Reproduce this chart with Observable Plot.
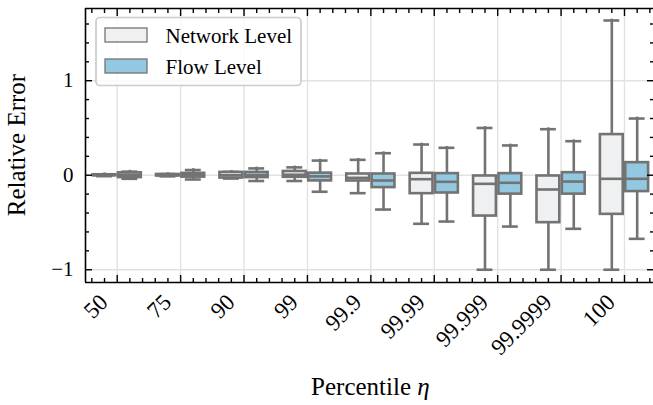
<!DOCTYPE html>
<html><head><meta charset="utf-8">
<script src="https://cdn.jsdelivr.net/npm/d3@7"></script>
<script src="https://cdn.jsdelivr.net/npm/@observablehq/plot@0.6"></script>
<style>
html,body{margin:0;padding:0;background:#fff;}
#chart{width:653px;height:405px;overflow:hidden;position:relative;}
#chart svg{overflow:hidden;display:block;}
</style></head><body><div id="chart"></div>
<script>
// ---- data ----
const categories = ["50","75","90","99","99.9","99.99","99.999","99.9999","100"];
const seriesNames = ["Network Level","Flow Level"];
const seriesColors = ["#eff0f2","#93c9e0"];

const netLow    = [-0.010,-0.012,-0.035,-0.061,-0.190,-0.514,-1.000,-1.000,-1.000];
const netQ1     = [-0.005,-0.008,-0.030,-0.022,-0.061,-0.195,-0.432,-0.502,-0.414];
const netMedian = [ 0.000, 0.000, 0.000, 0.005,-0.028,-0.042,-0.091,-0.151,-0.038];
const netQ3     = [ 0.005, 0.008, 0.030, 0.040, 0.013, 0.020,-0.008,-0.008, 0.430];
const netHigh   = [ 0.010, 0.012, 0.035, 0.083, 0.163, 0.325, 0.500, 0.487, 1.637];

const flowLow    = [-0.038,-0.045,-0.061,-0.175,-0.363,-0.490,-0.543,-0.567,-0.673];
const flowQ1     = [-0.025,-0.020,-0.025,-0.060,-0.131,-0.188,-0.200,-0.200,-0.173];
const flowMedian = [ 0.000, 0.000, 0.000,-0.012,-0.056,-0.070,-0.080,-0.067,-0.038];
const flowQ3     = [ 0.025, 0.020, 0.030, 0.022, 0.013, 0.017, 0.017, 0.027, 0.133];
const flowHigh   = [ 0.038, 0.055, 0.072, 0.155, 0.233, 0.290, 0.315, 0.360, 0.600];

const yTickValues = [-1, 0, 1];
const yTickLabels = ["\u22121", "0", "1"];
const xLabel = "Percentile ";
const xLabelSymbol = "\u03b7";
const yLabel = "Relative Error";

// ---- build table ----
const idx = categories.map((_, i) => i);
const boxes = [];
categories.forEach((c, i) => {
  boxes.push({i, s: 0, low: netLow[i], q1: netQ1[i], med: netMedian[i], q3: netQ3[i], high: netHigh[i]});
  boxes.push({i, s: 1, low: flowLow[i], q1: flowQ1[i], med: flowMedian[i], q3: flowQ3[i], high: flowHigh[i]});
});
const boxLeft = d => d.i + (d.s === 0 ? -0.38 : 0.02);
const boxRight = d => d.i + (d.s === 0 ? -0.02 : 0.38);
const boxMid = d => (boxLeft(d) + boxRight(d)) / 2;
const capHalf = 0.105;

const yDomain = [-1.135, 1.764];
const xMinor = d3.range(-2, 43).filter(k => k % 5 !== 0).map(k => k * 0.2);
const yMinor = d3.range(-4, 9).filter(k => k % 5 !== 0).map(k => k * 0.2);

const gray = "#737373";
const lw = 2.6;
const font = "'Liberation Serif', 'Times New Roman', serif";
const tickStyle = {fill: "none", label: null, stroke: "black", strokeWidth: 1.4};

const plot = Plot.plot({
  width: 653, height: 405,
  marginLeft: 85, marginTop: 8, marginBottom: 123, marginRight: 0,
  x: {type: "linear", domain: [-0.5, 8.5], range: [85, 655.7]},
  y: {domain: yDomain, range: [282, 8]},
  style: {fontFamily: font, background: "white", overflow: "hidden"},
  marks: [
    Plot.ruleX(idx, {stroke: "#e2e2e2", strokeWidth: 1.4}),
    Plot.ruleY(yTickValues, {stroke: "#e2e2e2", strokeWidth: 1.4}),
    Plot.ruleX(boxes, {x: boxMid, y1: "q3", y2: "high", stroke: gray, strokeWidth: lw, strokeLinecap: "square"}),
    Plot.ruleX(boxes, {x: boxMid, y1: "q1", y2: "low", stroke: gray, strokeWidth: lw, strokeLinecap: "square"}),
    Plot.ruleY(boxes, {y: "high", x1: d => boxMid(d) - capHalf, x2: d => boxMid(d) + capHalf, stroke: gray, strokeWidth: lw, strokeLinecap: "square"}),
    Plot.ruleY(boxes, {y: "low", x1: d => boxMid(d) - capHalf, x2: d => boxMid(d) + capHalf, stroke: gray, strokeWidth: lw, strokeLinecap: "square"}),
    Plot.rect(boxes, {x1: boxLeft, x2: boxRight, y1: "q1", y2: "q3", fill: d => seriesColors[d.s], stroke: gray, strokeWidth: lw}),
    Plot.ruleY(boxes, {y: "med", x1: boxLeft, x2: boxRight, stroke: gray, strokeWidth: lw}),
    // spines
    Plot.ruleX([-0.5, 8.5], {stroke: "black", strokeWidth: 1.6}),
    Plot.ruleY(yDomain, {stroke: "black", strokeWidth: 1.6}),
    // ticks (inward)
    Plot.axisX(idx, {anchor: "bottom", tickSize: -7, ...tickStyle}),
    Plot.axisX(idx, {anchor: "top", tickSize: -7, ...tickStyle}),
    Plot.axisX(xMinor, {anchor: "bottom", tickSize: -4, ...tickStyle}),
    Plot.axisX(xMinor, {anchor: "top", tickSize: -4, ...tickStyle}),
    Plot.axisY(yTickValues, {anchor: "left", tickSize: -7, ...tickStyle}),
    Plot.axisY(yTickValues, {anchor: "right", tickSize: -7, ...tickStyle}),
    Plot.axisY(yMinor, {anchor: "left", tickSize: -4, ...tickStyle}),
    Plot.axisY(yMinor, {anchor: "right", tickSize: -4, ...tickStyle}),
    // tick labels
    Plot.text(yTickValues, {y: d => d, frameAnchor: "left", textAnchor: "end", dx: -12, text: (d, i) => yTickLabels[i], fontSize: 21, fill: "black"}),
    Plot.text(categories, {x: (d, i) => i, frameAnchor: "bottom", rotate: -45, textAnchor: "end", dx: -8, dy: 21, text: d => d, fontSize: 23, fill: "black"})
  ]
});
document.getElementById("chart").appendChild(plot);

// axis labels
const svg = d3.select(plot);
svg.append("text").attr("transform", "translate(25,145) rotate(-90)")
  .attr("text-anchor", "middle").attr("font-size", 25).attr("font-family", font).attr("fill", "black")
  .text(yLabel);
const xl = svg.append("text").attr("x", 370.4).attr("y", 395)
  .attr("text-anchor", "middle").attr("font-size", 25).attr("font-family", font).attr("fill", "black");
xl.append("tspan").text(xLabel);
xl.append("tspan").attr("font-style", "italic").text(xLabelSymbol);

// legend
const lg = svg.append("g");
lg.append("rect").attr("x", 96).attr("y", 17.5).attr("width", 205).attr("height", 68).attr("rx", 4)
  .attr("fill", "white").attr("fill-opacity", 0.8).attr("stroke", "#cccccc").attr("stroke-width", 1.7);
seriesNames.forEach((name, k) => {
  const cy = 35 + k * 31;
  lg.append("rect").attr("x", 105).attr("y", cy - 7).attr("width", 42).attr("height", 14)
    .attr("fill", seriesColors[k]).attr("stroke", gray).attr("stroke-width", 1.3);
  lg.append("text").attr("x", 165.5).attr("y", cy + 7.5).attr("text-anchor", "start")
    .attr("font-size", 21).attr("font-family", font).attr("fill", "black").text(name);
});
</script>
</body></html>
